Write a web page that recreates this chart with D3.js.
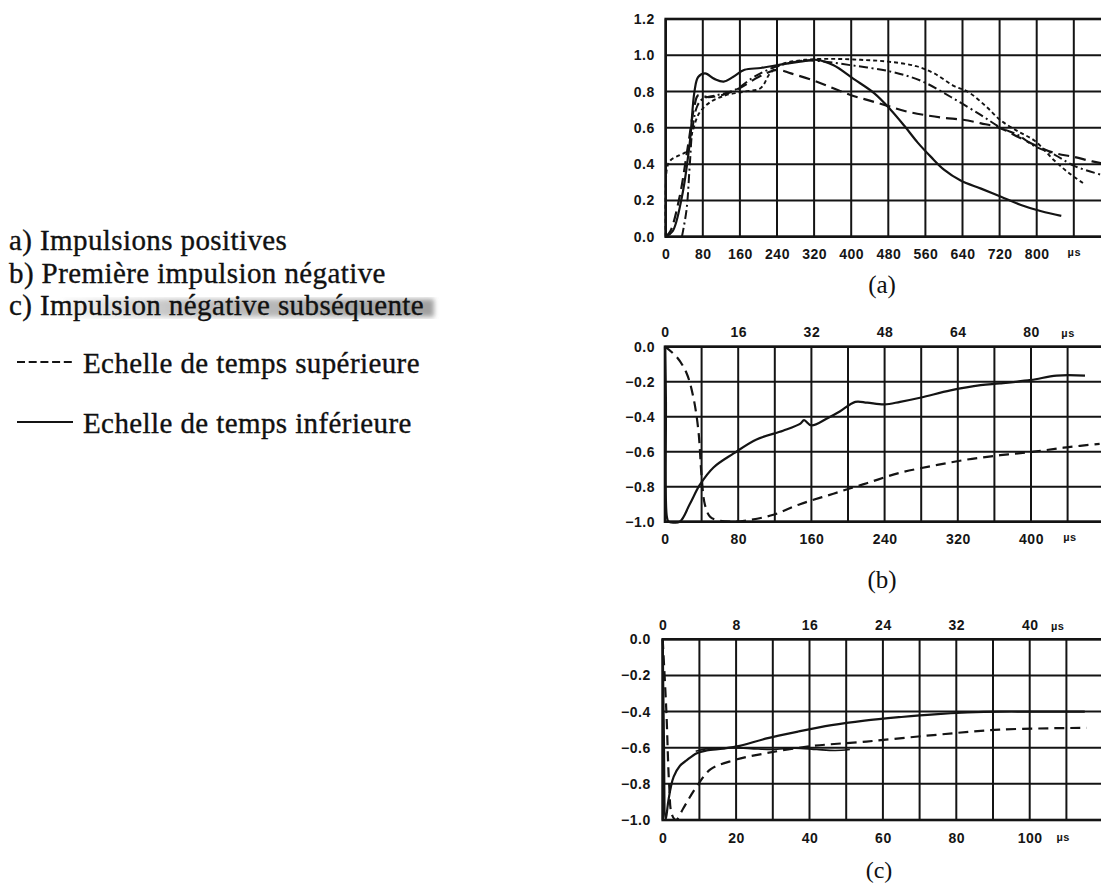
<!DOCTYPE html>
<html>
<head>
<meta charset="utf-8">
<script src="https://cdn.jsdelivr.net/npm/d3@7"></script>
<style>
  html, body { margin: 0; padding: 0; background: #fff; }
  svg { display: block; }
  .tick text { font-family: "Liberation Sans", Arial, sans-serif; font-weight: bold; font-size: 14px; fill: #151515; letter-spacing: 0.5px; }
  .tick text.unit { font-size: 11px; }
  .legend { font-family: "Liberation Serif", "Times New Roman", serif; font-size: 29px; fill: #111; stroke: #111; stroke-width: 0.35px; letter-spacing: 0.4px; }
  .caption { font-family: "Liberation Serif", "Times New Roman", serif; fill: #111; }
</style>
</head>
<body>
<svg id="fig" width="1101" height="885"></svg>
<script>
// ---------- Panel (a): positive impulses (time in µs) ----------
const aTicksX = [0, 80, 160, 240, 320, 400, 480, 560, 640, 720, 800, 880];
const aTickLabelsX = ["0", "80", "160", "240", "320", "400", "480", "560", "640", "720", "800", "µs"];
const aTicksY = [0, 0.2, 0.4, 0.6, 0.8, 1.0, 1.2];
const aTickLabelsY = ["0.0", "0.2", "0.4", "0.6", "0.8", "1.0", "1.2"];

const aSolid = [[0,0],[15,0.03],[35,0.22],[52,0.52],[62,0.8],[70,0.88],[85,0.9],[105,0.87],[125,0.855],
  [145,0.88],[170,0.92],[205,0.93],[250,0.95],[290,0.965],[326,0.975],[362,0.945],[405,0.87],[450,0.79],
  [485,0.70],[515,0.61],[543,0.52],[572,0.44],[600,0.37],[636,0.31],[680,0.265],[723,0.22],[766,0.175],
  [810,0.14],[853,0.115]];
const aLongDash = [[0,0],[10,0.03],[30,0.22],[48,0.5],[62,0.72],[70,0.78],[90,0.77],[120,0.78],[160,0.82],
  [200,0.88],[240,0.92],[270,0.9],[320,0.86],[360,0.82],[400,0.78],[440,0.75],[480,0.72],[520,0.69],
  [560,0.67],[600,0.655],[640,0.645],[680,0.625],[720,0.6],[760,0.55],[800,0.5],[840,0.46],[880,0.44],
  [920,0.415],[960,0.395]];
const aDashDot = [[35,0],[45,0.15],[52,0.4],[58,0.6],[68,0.72],[80,0.76],[110,0.78],[150,0.81],[190,0.88],
  [230,0.93],[280,0.965],[320,0.97],[400,0.945],[485,0.91],[550,0.86],[615,0.77],[680,0.67],[723,0.6],
  [760,0.56],[795,0.5],[840,0.45],[881,0.39],[941,0.34]];
const aDotted = [[0,0],[3,0.38],[10,0.42],[30,0.45],[45,0.47],[58,0.58],[72,0.68],[95,0.74],[130,0.78],
  [170,0.8],[205,0.82],[225,0.9],[250,0.95],[300,0.975],[360,0.98],[420,0.975],[480,0.965],[540,0.94],
  [579,0.9],[622,0.83],[651,0.8],[690,0.72],[723,0.64],[760,0.58],[795,0.53],[838,0.42],[870,0.35],
  [903,0.29]];

// ---------- Panel (b): first negative impulse ----------
const bTicksBottom = [0, 80, 160, 240, 320, 400, 442];
const bTickLabelsBottom = ["0", "80", "160", "240", "320", "400", "µs"];
const bTicksTop = [0, 16, 32, 48, 64, 80, 88];
const bTickLabelsTop = ["0", "16", "32", "48", "64", "80", "µs"];
const bTicksY = [0, -0.2, -0.4, -0.6, -0.8, -1.0];
const bTickLabelsY = ["0.0", "−0.2", "−0.4", "−0.6", "−0.8", "−1.0"];

// solid trace read against the lower time scale
const bSolid = [[0,0],[1,-0.3],[2,-0.97],[4,-1.0],[16,-1.0],[27,-0.9],[38,-0.79],[53,-0.69],[75,-0.61],
  [100,-0.53],[129,-0.48],[148,-0.44],[152,-0.42],[160,-0.45],[177,-0.41],[191,-0.37],[208,-0.315],
  [221,-0.32],[240,-0.33],[257,-0.315],[280,-0.29],[312,-0.25],[345,-0.22],[366,-0.21],[400,-0.19],
  [428,-0.165],[459,-0.165]];
// dashed trace read against the upper time scale
const bDashed = [[0,0],[2.6,-0.06],[4.7,-0.15],[6.2,-0.29],[7.3,-0.48],[8.0,-0.74],[8.7,-0.9],[9.8,-0.97],
  [11.3,-0.99],[15,-1.0],[18.6,-0.99],[23.7,-0.96],[29.5,-0.9],[36.8,-0.84],[44.1,-0.78],[51.4,-0.72],
  [58.7,-0.68],[66,-0.645],[73.3,-0.62],[80.6,-0.6],[87.8,-0.575],[95,-0.555]];

// ---------- Panel (c): subsequent negative impulse ----------
const cTicksBottom = [0, 20, 40, 60, 80, 100, 109];
const cTickLabelsBottom = ["0", "20", "40", "60", "80", "100", "µs"];
const cTicksTop = [0, 8, 16, 24, 32, 40, 43];
const cTickLabelsTop = ["0", "8", "16", "24", "32", "40", "µs"];
const cTicksY = [0, -0.2, -0.4, -0.6, -0.8, -1.0];
const cTickLabelsY = ["0.0", "−0.2", "−0.4", "−0.6", "−0.8", "−1.0"];

const cSolid = [[0,0],[0.3,-0.5],[0.8,-1.0],[1.5,-0.9],[2.2,-0.82],[3,-0.76],[4.7,-0.70],[6.5,-0.67],
  [9.3,-0.63],[12,-0.615],[16.5,-0.605],[21,-0.59],[28,-0.55],[37,-0.51],[46,-0.475],[55,-0.45],
  [65,-0.43],[74,-0.415],[83,-0.405],[92,-0.40],[101,-0.40],[115,-0.40]];
const cPlateau = [[9,-0.62],[12,-0.605],[18,-0.6],[24,-0.605],[30,-0.61],[36,-0.602],[42,-0.61],
  [47,-0.615],[51,-0.61]];
const cDashed = [[0,0],[0.4,-0.4],[0.7,-0.8],[1.0,-0.97],[1.45,-1.0],[2.25,-0.935],[3.0,-0.87],
  [3.7,-0.815],[5.2,-0.72],[7.7,-0.67],[11.3,-0.63],[16.4,-0.59],[22.2,-0.566],[29.5,-0.53],
  [36.7,-0.50],[46.2,-0.49]];

// ---------- legend ----------
const panelNames = ["a) Impulsions positives", "b) Première impulsion négative", "c) Impulsion négative subséquente"];
const scaleNames = ["Echelle de temps supérieure", "Echelle de temps inférieure"];
const captions = ["(a)", "(b)", "(c)"];

const svg = d3.select("#fig");
const INK = "#141414";

// Frame + grid + axes for one panel; returns scales
function panel(p) {
  const g = svg.append("g");
  const left = p.x0, right = p.x0 + p.cell * p.cells;
  const top = p.yTop, bottom = p.yBottom;
  const x = d3.scaleLinear().domain(p.xDomain).range([left, right]);
  const y = d3.scaleLinear().domain(p.yDomain).range([bottom, top]);

  const clipId = "clip" + p.id;
  svg.append("clipPath").attr("id", clipId).append("rect")
    .attr("x", left - 2).attr("y", top - 2).attr("width", right - left + 4).attr("height", bottom - top + 4);

  // grid
  const step = (p.xDomain[1] - p.xDomain[0]) / p.cells;
  g.selectAll("line.v").data(d3.range(0, p.cells + 1).map(i => p.xDomain[0] + i * step)).join("line")
    .attr("x1", d => x(d)).attr("x2", d => x(d)).attr("y1", top).attr("y2", bottom)
    .attr("stroke", INK).attr("stroke-width", 2);
  g.selectAll("line.h").data(p.yTicks).join("line")
    .attr("x1", left).attr("x2", right).attr("y1", d => y(d)).attr("y2", d => y(d))
    .attr("stroke", INK).attr("stroke-width", 2);
  g.append("rect").attr("x", left).attr("y", top).attr("width", right - left).attr("height", bottom - top)
    .attr("fill", "none").attr("stroke", INK).attr("stroke-width", 2.6);

  // left value axis
  g.append("g").attr("transform", `translate(${left},0)`)
    .call(d3.axisLeft(y).tickValues(p.yTicks).tickFormat((d, i) => p.yLabels[i]).tickSize(0).tickPadding(p.yPad))
    .call(s => s.select(".domain").remove());

  // lower time scale
  g.append("g").attr("transform", `translate(0,${bottom})`)
    .call(d3.axisBottom(x).tickValues(p.bottomTicks).tickFormat((d, i) => p.bottomLabels[i]).tickSize(0).tickPadding(p.bottomPad))
    .call(s => s.select(".domain").remove())
    .selectAll(".tick text").classed("unit", t => t === p.bottomTicks[p.bottomTicks.length - 1]);

  let xTop = null;
  if (p.topDomain) {
    xTop = d3.scaleLinear().domain(p.topDomain).range([left, right]);
    g.append("g").attr("transform", `translate(0,${top})`)
      .call(d3.axisTop(xTop).tickValues(p.topTicks).tickFormat((d, i) => p.topLabels[i]).tickSize(0).tickPadding(p.topPad))
      .call(s => s.select(".domain").remove())
      .selectAll(".tick text").classed("unit", t => t === p.topTicks[p.topTicks.length - 1]);
  }

  svg.append("text").attr("class", "caption").attr("x", p.capX).attr("y", p.capY)
    .attr("font-size", p.capSize).attr("text-anchor", "middle").text(p.caption);

  return { x, y, xTop, clipId };
}

function trace(sc, xs, data, dash, width) {
  const line = d3.line().x(d => xs(d[0])).y(d => sc.y(d[1])).curve(d3.curveCatmullRom.alpha(0.5));
  svg.append("path").attr("d", line(data)).attr("clip-path", `url(#${sc.clipId})`)
    .attr("fill", "none").attr("stroke", INK).attr("stroke-width", width || 2.1)
    .attr("stroke-linejoin", "round").attr("stroke-dasharray", dash || null);
}

// Panel (a)
const A = panel({
  id: "a", x0: 665.7, cell: 37.1, cells: 12, yTop: 19, yBottom: 236.7,
  xDomain: [0, 960], yDomain: [0, 1.2], yTicks: aTicksY, yLabels: aTickLabelsY, yPad: 11,
  bottomTicks: aTicksX, bottomLabels: aTickLabelsX, bottomPad: 12,
  caption: captions[0], capX: 882, capY: 293, capSize: 25
});
trace(A, A.x, aSolid, null, 2.2);
trace(A, A.x, aLongDash, "11,6", 2.2);
trace(A, A.x, aDashDot, "9,3.5,2,3.5", 2);
trace(A, A.x, aDotted, "4,3", 1.9);

// Panel (b)
const B = panel({
  id: "b", x0: 665, cell: 36.6, cells: 12, yTop: 346.7, yBottom: 521.7,
  xDomain: [0, 480], yDomain: [-1, 0], yTicks: bTicksY, yLabels: bTickLabelsY, yPad: 10,
  bottomTicks: bTicksBottom, bottomLabels: bTickLabelsBottom, bottomPad: 12,
  topDomain: [0, 96], topTicks: bTicksTop, topLabels: bTickLabelsTop, topPad: 10,
  caption: captions[1], capX: 882, capY: 588, capSize: 25
});
trace(B, B.x, bSolid, null, 2.2);
trace(B, B.xTop, bDashed, "10,6", 2.2);

// Panel (c)
const C = panel({
  id: "c", x0: 662.7, cell: 36.7, cells: 12, yTop: 639.3, yBottom: 820,
  xDomain: [0, 120], yDomain: [-1, 0], yTicks: cTicksY, yLabels: cTickLabelsY, yPad: 12,
  bottomTicks: cTicksBottom, bottomLabels: cTickLabelsBottom, bottomPad: 13,
  topDomain: [0, 48], topTicks: cTicksTop, topLabels: cTickLabelsTop, topPad: 9,
  caption: captions[2], capX: 879, capY: 878, capSize: 24
});
trace(C, C.x, cSolid, null, 2.2);
trace(C, C.x, cPlateau, null, 1.6);
trace(C, C.xTop, cDashed, "10,6", 2.2);

// ---------- legend block ----------
const defs = svg.append("defs");
defs.append("filter").attr("id", "smear").append("feGaussianBlur").attr("stdDeviation", 2.5);
const grad = defs.append("linearGradient").attr("id", "smearGrad");
grad.append("stop").attr("offset", "0%").attr("stop-color", "#888").attr("stop-opacity", 0.08);
grad.append("stop").attr("offset", "30%").attr("stop-color", "#888").attr("stop-opacity", 0.5);
grad.append("stop").attr("offset", "100%").attr("stop-color", "#777").attr("stop-opacity", 0.7);
svg.insert("rect", ":first-child").attr("x", 64).attr("y", 299).attr("width", 370).attr("height", 18)
  .attr("fill", "url(#smearGrad)").attr("filter", "url(#smear)");

const legendBaselines = [250, 282.5, 315];
svg.selectAll("text.pn").data(panelNames).join("text").attr("class", "legend pn")
  .attr("x", 9).attr("y", (d, i) => legendBaselines[i]).text(d => d);

const keyY = [362, 422];
const keyBase = [373, 433];
svg.append("line").attr("x1", 17).attr("x2", 72).attr("y1", keyY[0]).attr("y2", keyY[0])
  .attr("stroke", INK).attr("stroke-width", 2).attr("stroke-dasharray", "8,3.7");
svg.append("line").attr("x1", 17).attr("x2", 73).attr("y1", keyY[1]).attr("y2", keyY[1])
  .attr("stroke", INK).attr("stroke-width", 2);
svg.selectAll("text.sn").data(scaleNames).join("text").attr("class", "legend sn")
  .attr("x", 83).attr("y", (d, i) => keyBase[i]).text(d => d);
</script>
</body>
</html>
